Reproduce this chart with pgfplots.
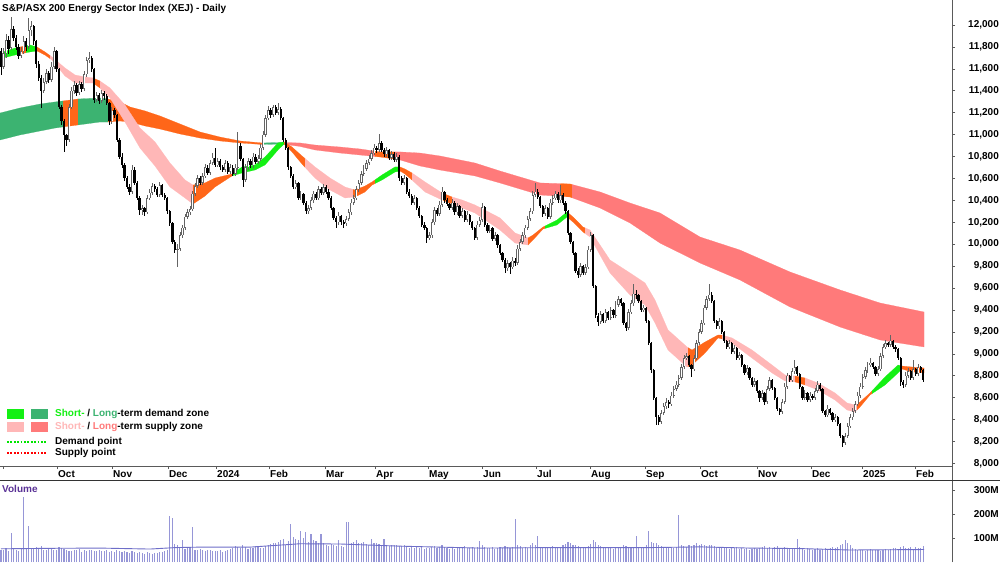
\documentclass[border=0pt]{standalone}
\usepackage{fontspec}
\setmainfont{Liberation Sans}
\usepackage{pgfplots}
\pgfplotsset{compat=1.18}
\usepackage{pgfplotstable}
\definecolor{sgreen}{RGB}{20,240,20}
\definecolor{lgreen}{RGB}{60,179,113}
\definecolor{spink}{RGB}{255,183,183}
\definecolor{lred}{RGB}{255,122,122}
\definecolor{orng}{RGB}{255,102,25}
\definecolor{volc}{RGB}{150,150,215}
\definecolor{volline}{RGB}{110,110,200}
\definecolor{upc}{RGB}{100,100,100}
\definecolor{vollbl}{RGB}{90,50,150}
\definecolor{axc}{RGB}{90,90,90}
\pgfplotsset{zone/.style={fill=#1, draw=#1, line width=0.2pt, forget plot, mark=none}}

\pgfplotstableread{
i o h l c v
0 11760 11790 11540 11620 52
1 11620 11790 11600 11740 48
2 11740 11920 11700 11860 60
3 11860 11900 11740 11780 45
4 11790 12070 11770 11960 120
5 11960 11990 11850 11880 55
6 11880 11910 11770 11800 50
7 11800 11830 11690 11720 47
8 11720 11800 11700 11760 53
9 11760 11900 11740 11850 270
10 11850 11880 11760 11800 58
11 11800 12060 11780 11950 150
12 11950 12040 11900 11990 60
13 11990 12000 11820 11850 55
14 11850 11860 11610 11640 62
15 11640 11670 11490 11520 58
16 11520 11540 11240 11400 65
17 11400 11520 11380 11480 50
18 11480 11600 11460 11560 48
19 11560 11580 11470 11500 55
20 11500 11660 11480 11620 60
21 11620 11800 11600 11760 52
22 11760 11770 11570 11600 48
23 11600 11610 11230 11250 62
24 11250 11270 11090 11120 58
25 11120 11140 10840 11000 55
26 11000 11010 10900 10950 50
27 10950 11280 10930 11250 47
28 11250 11430 11230 11400 45
29 11400 11490 11370 11450 52
30 11450 11470 11350 11380 48
31 11380 11490 11360 11460 55
32 11460 11480 11390 11420 42
33 11420 11580 11400 11550 50
34 11550 11710 11530 11680 45
35 11680 11750 11650 11700 48
36 11700 11720 11570 11600 52
37 11600 11610 11290 11320 46
38 11320 11390 11300 11360 44
39 11360 11380 11280 11310 50
40 11310 11410 11290 11380 47
41 11380 11400 11320 11350 45
42 11350 11370 11270 11290 50
43 11290 11300 11090 11120 43
44 11120 11250 11100 11220 46
45 11220 11240 11150 11180 42
46 11180 11190 10930 10950 48
47 10950 10970 10780 10800 45
48 10800 10830 10700 10720 40
49 10720 10740 10580 10600 44
50 10600 10620 10500 10520 42
51 10520 10550 10450 10480 38
52 10480 10720 10460 10680 45
53 10680 10700 10540 10560 40
54 10560 10580 10400 10420 36
55 10420 10440 10270 10310 42
56 10310 10360 10270 10330 38
57 10330 10340 10260 10290 35
58 10290 10450 10280 10420 40
59 10420 10500 10400 10470 37
60 10470 10560 10450 10530 34
61 10530 10550 10480 10500 38
62 10500 10520 10430 10450 36
63 10450 10570 10430 10540 40
64 10540 10550 10430 10450 42
65 10450 10470 10400 10420 44
66 10420 10430 10280 10300 50
67 10300 10310 10170 10190 190
68 10190 10200 10000 10020 185
69 10020 10040 9920 9950 75
70 9950 10000 9790 9960 70
71 9960 10110 9940 10080 60
72 10080 10180 10060 10150 90
73 10150 10280 10130 10250 55
74 10250 10320 10230 10290 62
75 10290 10350 10270 10320 58
76 10320 10490 10300 10460 146
77 10460 10560 10440 10530 52
78 10530 10630 10510 10600 48
79 10600 10620 10540 10560 55
80 10560 10650 10540 10620 50
81 10620 10730 10600 10700 45
82 10700 10720 10630 10650 48
83 10650 10770 10630 10740 52
84 10740 10830 10720 10790 47
85 10790 10880 10700 10720 44
86 10720 10790 10700 10760 46
87 10760 10780 10680 10700 50
88 10700 10720 10660 10680 42
89 10680 10770 10660 10740 45
90 10740 10760 10640 10660 48
91 10660 10730 10640 10700 55
92 10700 10720 10620 10640 60
93 10640 10730 10620 10700 65
94 10700 11020 10680 10900 62
95 10900 10920 10760 10780 58
96 10780 10790 10520 10590 70
97 10590 10730 10570 10700 62
98 10700 10790 10680 10760 55
99 10760 10780 10700 10720 60
100 10720 10830 10700 10800 58
101 10800 10820 10730 10750 65
102 10750 10810 10730 10780 62
103 10780 10910 10760 10880 57
104 10880 11030 10860 11000 60
105 11000 11180 10980 11150 68
106 11150 11260 11130 11220 72
107 11220 11240 11150 11180 75
108 11180 11270 11160 11250 80
109 11250 11270 11180 11200 78
110 11200 11290 11180 11230 85
111 11230 11250 11130 11150 90
112 11150 11160 10930 10950 95
113 10950 10970 10860 10880 70
114 10880 10890 10680 10700 88
115 10700 10710 10600 10620 158
116 10620 10640 10500 10520 105
117 10520 10590 10500 10560 95
118 10560 10570 10400 10420 90
119 10420 10490 10400 10460 130
120 10460 10470 10360 10380 100
121 10380 10390 10280 10300 125
122 10300 10360 10280 10330 85
123 10330 10430 10310 10400 115
124 10400 10490 10380 10460 92
125 10460 10480 10400 10420 88
126 10420 10530 10400 10500 80
127 10500 10520 10450 10470 117
128 10470 10550 10450 10520 78
129 10520 10540 10460 10480 72
130 10480 10500 10400 10420 68
131 10420 10440 10310 10330 75
132 10330 10340 10220 10240 70
133 10240 10260 10150 10200 65
134 10200 10290 10180 10260 92
135 10260 10270 10180 10200 68
136 10200 10220 10150 10190 62
137 10190 10260 10170 10230 166
138 10230 10320 10210 10290 166
139 10290 10410 10270 10380 80
140 10380 10450 10360 10420 85
141 10420 10530 10400 10500 90
142 10500 10590 10480 10560 78
143 10560 10670 10540 10640 80
144 10640 10720 10620 10690 82
145 10690 10770 10670 10740 75
146 10740 10810 10720 10780 70
147 10780 10860 10760 10830 96
148 10830 10910 10810 10880 80
149 10880 10900 10830 10860 80
150 10860 11010 10840 10920 75
151 10920 10940 10840 10860 70
152 10860 10880 10800 10820 96
153 10820 10890 10800 10860 68
154 10860 10870 10770 10790 65
155 10790 10850 10770 10820 70
156 10820 10840 10750 10770 70
157 10770 10830 10750 10800 72
158 10800 10810 10580 10600 68
159 10600 10620 10540 10560 65
160 10560 10630 10540 10600 70
161 10600 10610 10460 10480 62
162 10480 10500 10420 10440 58
163 10440 10460 10360 10380 66
164 10380 10450 10360 10420 60
165 10420 10430 10310 10330 64
166 10330 10350 10240 10260 58
167 10260 10270 10160 10180 62
168 10180 10200 10130 10150 55
169 10150 10160 10010 10060 60
170 10060 10110 10040 10080 58
171 10080 10230 10060 10200 62
172 10200 10340 10180 10310 66
173 10310 10330 10260 10280 60
174 10280 10390 10260 10360 64
175 10360 10520 10340 10480 70
176 10480 10490 10380 10400 62
177 10400 10420 10350 10370 58
178 10370 10380 10310 10330 55
179 10330 10410 10310 10380 60
180 10380 10390 10270 10290 56
181 10290 10380 10270 10350 60
182 10350 10360 10240 10260 58
183 10260 10330 10240 10300 62
184 10300 10310 10200 10220 65
185 10220 10300 10200 10270 60
186 10270 10280 10180 10200 60
187 10200 10210 10130 10150 62
188 10150 10160 10040 10060 58
189 10060 10210 10040 10180 64
190 10180 10250 10160 10220 88
191 10220 10380 10200 10340 70
192 10340 10350 10160 10180 62
193 10180 10190 10100 10120 58
194 10120 10180 10100 10150 60
195 10150 10160 10030 10050 64
196 10050 10110 10030 10080 56
197 10080 10090 9970 9990 60
198 9990 10000 9900 9920 62
199 9920 9930 9840 9860 58
200 9860 9870 9740 9780 66
201 9780 9860 9760 9830 62
202 9830 9840 9730 9790 58
203 9790 9880 9770 9850 64
204 9850 9870 9800 9830 181
205 9830 9990 9810 9960 70
206 9960 10050 9940 10020 68
207 10020 10110 10000 10080 60
208 10080 10180 10060 10150 62
209 10150 10260 10130 10230 58
210 10230 10330 10210 10300 72
211 10300 10490 10280 10450 78
212 10450 10560 10430 10480 70
213 10480 10500 10410 10430 107
214 10430 10440 10330 10350 62
215 10350 10360 10250 10280 60
216 10280 10360 10260 10330 64
217 10330 10340 10230 10250 58
218 10250 10410 10230 10380 62
219 10380 10450 10360 10420 66
220 10420 10490 10400 10460 60
221 10460 10480 10380 10400 58
222 10400 10540 10380 10450 64
223 10450 10470 10360 10380 70
224 10380 10390 10280 10300 75
225 10300 10310 10080 10100 85
226 10100 10110 10000 10020 80
227 10020 10030 9900 9920 72
228 9920 9930 9740 9760 70
229 9760 9780 9690 9720 66
230 9720 9830 9700 9800 62
231 9800 9810 9720 9740 60
232 9740 9820 9720 9790 58
233 9790 9980 9770 9950 68
234 9950 10110 9930 10080 75
235 10080 10090 9600 9620 90
236 9620 9630 9330 9350 85
237 9350 9370 9250 9290 70
238 9290 9390 9270 9360 65
239 9360 9370 9280 9300 62
240 9300 9410 9280 9380 60
241 9380 9390 9310 9330 58
242 9330 9430 9310 9400 62
243 9400 9410 9330 9350 56
244 9350 9480 9330 9450 60
245 9450 9530 9430 9500 58
246 9500 9510 9440 9460 64
247 9460 9470 9260 9280 70
248 9280 9290 9210 9240 66
249 9240 9410 9220 9380 62
250 9380 9490 9360 9460 58
251 9460 9640 9440 9550 60
252 9550 9580 9500 9540 107
253 9540 9550 9460 9480 62
254 9480 9490 9380 9400 58
255 9400 9450 9380 9420 60
256 9420 9430 9280 9300 70
257 9300 9310 9080 9100 129
258 9100 9110 8830 8850 85
259 8850 8860 8580 8600 80
260 8600 8610 8350 8420 78
261 8420 8440 8350 8380 70
262 8380 8490 8360 8460 65
263 8460 8550 8440 8520 62
264 8520 8600 8500 8560 60
265 8560 8580 8510 8540 58
266 8540 8650 8520 8620 62
267 8620 8710 8600 8680 60
268 8680 8750 8660 8720 64
269 8720 8810 8700 8780 196
270 8780 8910 8760 8880 72
271 8880 8990 8860 8960 68
272 8960 9010 8940 8980 64
273 8980 8990 8880 8900 70
274 8900 8910 8790 8860 66
275 8860 8990 8840 8960 72
276 8960 9130 8940 9100 80
277 9100 9230 9080 9200 70
278 9200 9310 9180 9280 75
279 9280 9450 9260 9420 70
280 9420 9530 9400 9500 68
281 9500 9640 9480 9540 72
282 9540 9560 9460 9480 70
283 9480 9490 9280 9300 65
284 9300 9310 9230 9250 62
285 9250 9330 9230 9300 60
286 9300 9310 9180 9200 64
287 9200 9210 9100 9120 58
288 9120 9130 9040 9060 62
289 9060 9130 9040 9100 56
290 9100 9110 9000 9020 60
291 9020 9080 9000 9050 58
292 9050 9060 8940 8960 62
293 8960 9020 8940 8990 56
294 8990 9000 8880 8900 60
295 8900 8910 8810 8830 54
296 8830 8900 8810 8870 58
297 8870 8880 8760 8780 52
298 8780 8790 8700 8720 56
299 8720 8780 8700 8750 60
300 8750 8760 8640 8660 55
301 8660 8670 8560 8600 58
302 8600 8670 8580 8640 62
303 8640 8650 8530 8560 66
304 8560 8710 8540 8680 60
305 8680 8790 8660 8760 64
306 8760 8770 8670 8690 58
307 8690 8700 8580 8600 62
308 8600 8610 8480 8500 66
309 8500 8510 8440 8470 60
310 8470 8590 8450 8560 58
311 8560 8730 8540 8700 62
312 8700 8830 8680 8800 56
313 8800 8810 8740 8760 60
314 8760 8870 8740 8840 54
315 8840 8940 8820 8880 58
316 8880 8890 8800 8820 96
317 8820 8830 8680 8700 62
318 8700 8710 8580 8600 56
319 8600 8670 8580 8640 52
320 8640 8650 8560 8580 58
321 8580 8650 8560 8620 55
322 8620 8630 8580 8600 50
323 8600 8690 8580 8660 54
324 8660 8750 8640 8720 58
325 8720 8730 8660 8680 52
326 8680 8690 8460 8480 56
327 8480 8490 8420 8440 60
328 8440 8530 8420 8500 54
329 8500 8510 8440 8460 58
330 8460 8470 8380 8400 62
331 8400 8450 8380 8420 58
332 8420 8430 8340 8360 64
333 8360 8370 8230 8250 70
334 8250 8260 8150 8190 75
335 8190 8280 8170 8250 92
336 8250 8370 8230 8340 80
337 8340 8450 8320 8420 72
338 8420 8510 8400 8480 60
339 8480 8570 8460 8540 55
340 8540 8650 8520 8620 52
341 8620 8730 8600 8700 48
342 8700 8820 8680 8790 50
343 8790 8880 8770 8850 46
344 8850 8930 8830 8900 50
345 8900 8960 8880 8920 54
346 8920 8930 8860 8880 48
347 8880 8890 8800 8820 52
348 8820 8890 8800 8860 50
349 8860 9010 8840 8980 46
350 8980 9090 8960 9060 52
351 9060 9130 9040 9100 55
352 9100 9110 9060 9080 50
353 9080 9170 9060 9120 56
354 9120 9130 9040 9060 60
355 9060 9080 9020 9040 58
356 9040 9050 8940 8960 54
357 8960 8970 8710 8740 62
358 8740 8760 8690 8720 66
359 8720 8830 8700 8800 58
360 8800 8870 8780 8840 60
361 8840 8850 8760 8780 64
362 8780 8940 8760 8860 56
363 8860 8870 8800 8820 62
364 8820 8910 8800 8880 58
365 8880 8890 8830 8850 60
366 8850 8860 8740 8760 66
}\candles

\begin{document}
\begin{tikzpicture}
\fill[white] (0pt,0pt) rectangle (1000pt,562pt);
\useasboundingbox (0pt,0pt) rectangle (1000pt,562pt);

% ---------------- price panel ----------------
\begin{axis}[
  at={(0pt,96pt)}, anchor=south west, scale only axis,
  width=952pt, height=466pt,
  xmin=0, xmax=952, ymin=7977, ymax=12228,
  axis x line*=bottom, axis y line*=right,
  axis line style={draw=axc, line width=0.7pt},
  tick align=outside, major tick length=3pt,
  tick style={draw=axc, line width=0.6pt},
  xtick={3,57,112,168,216,269,325,375,428,482,536,590,645,700,757,811,862,915},
  xticklabels={,Oct,Nov,Dec,2024,Feb,Mar,Apr,May,Jun,Jul,Aug,Sep,Oct,Nov,Dec,2025,Feb},
  xticklabel style={anchor=north west, inner sep=0pt, xshift=1pt, yshift=-1pt, font=\bfseries\fontsize{10}{11}\selectfont},
  ytick={8000,8200,...,12000},
  scaled y ticks=false,
  yticklabel style={anchor=east, inner sep=0pt, xshift=44pt, font=\bfseries\fontsize{10}{11}\selectfont,
    /pgf/number format/.cd, fixed, precision=0, 1000 sep={,}, assume math mode=true},
  clip=true,
]
% long-term zone
\addplot[zone=lgreen] coordinates {(0,11197)(20,11243)(40,11279)(55,11298)(63,11307)(63,11070)(55,11060)(40,11033)(20,10997)(0,10951)};
\addplot[zone=orng] coordinates {(63,11307)(78,11325)(78,11088)(63,11070)};
\addplot[zone=lgreen] coordinates {(78,11325)(100,11334)(108,11325)(108,11115)(100,11115)(78,11088)};
\addplot[zone=orng] coordinates {(108,11325)(120,11298)(130,11252)(145,11216)(160,11170)(180,11097)(200,11024)(220,10978)(240,10942)(262,10924)(262,10910)(240,10924)(220,10942)(200,10969)(180,11006)(160,11051)(145,11079)(130,11115)(120,11124)(108,11115)};
\addplot[zone=lgreen] coordinates {(262,10924)(282,10928)(282,10914)(262,10910)};
\addplot[zone=lred] coordinates {(282,10928)(300,10924)(315,10905)(340,10887)(360,10869)(375,10849)(375,10800)(360,10814)(340,10832)(315,10860)(300,10892)(282,10914)};
\addplot[zone=orng] coordinates {(375,10849)(380,10842)(395,10842)(395,10776)(380,10796)(375,10800)};
\addplot[zone=lred] coordinates {(395,10842)(400,10842)(420,10832)(440,10805)(475,10741)(500,10668)(540,10559)(560,10553)(560,10437)(540,10449)(500,10559)(475,10623)(440,10677)(420,10714)(400,10769)(395,10776)};
\addplot[zone=orng] coordinates {(560,10553)(570,10550)(572,10545)(572,10424)(570,10431)(560,10437)};
\addplot[zone=lred] coordinates {(572,10545)(600,10477)(630,10376)(660,10285)(700,10066)(740,9947)(790,9747)(840,9583)(880,9464)(924,9382)(924,9063)(880,9127)(840,9245)(790,9428)(740,9674)(700,9829)(660,10011)(630,10194)(600,10331)(572,10424)};
% short-term zone
\addplot[zone=sgreen] coordinates {(3,11754)(15,11790)(19,11797)(19,11733)(15,11726)(3,11699)};
\addplot[zone=orng] coordinates {(19,11797)(26,11811)(26,11747)(19,11733)};
\addplot[zone=sgreen] coordinates {(26,11811)(30,11818)(35,11804)(35,11760)(30,11754)(26,11747)};
\addplot[zone=orng] coordinates {(35,11804)(37,11799)(45,11754)(50,11721)(50,11694)(45,11726)(37,11763)(35,11760)};
\addplot[zone=spink] coordinates {(50,11721)(52,11708)(65,11608)(75,11544)(85,11526)(93,11517)(93,11471)(85,11471)(75,11471)(65,11535)(52,11681)(50,11694)};
\addplot[zone=orng] coordinates {(93,11517)(100,11489)(100,11425)(93,11471)};
\addplot[zone=spink] coordinates {(100,11489)(110,11425)(125,11270)(140,11060)(155,10933)(170,10741)(185,10586)(193,10540)(193,10367)(185,10422)(170,10522)(155,10714)(140,10878)(125,11115)(110,11334)(100,11425)};
\addplot[zone=orng] coordinates {(193,10540)(205,10559)(215,10604)(232,10641)(233,10647)(233,10626)(232,10623)(215,10522)(205,10440)(193,10367)};
\addplot[zone=sgreen] coordinates {(233,10647)(242,10705)(255,10723)(265,10796)(278,10924)(284,10933)(284,10914)(278,10860)(265,10723)(255,10677)(242,10650)(233,10626)};
\addplot[zone=orng] coordinates {(284,10933)(292,10887)(302,10805)(305,10782)(305,10702)(302,10732)(292,10842)(284,10914)};
\addplot[zone=spink] coordinates {(305,10782)(315,10705)(330,10604)(345,10522)(353,10500)(353,10429)(345,10422)(330,10495)(315,10604)(305,10702)};
\addplot[zone=orng] coordinates {(353,10500)(355,10495)(365,10531)(372,10568)(375,10587)(375,10554)(372,10540)(365,10477)(355,10431)(353,10429)};
\addplot[zone=sgreen] coordinates {(375,10587)(382,10632)(395,10705)(398,10705)(398,10664)(395,10659)(382,10586)(375,10554)};
\addplot[zone=orng] coordinates {(398,10705)(400,10705)(405,10686)(412,10650)(412,10586)(405,10641)(400,10668)(398,10664)};
\addplot[zone=spink] coordinates {(412,10650)(425,10568)(442,10468)(443,10464)(443,10400)(442,10404)(425,10477)(412,10586)};
\addplot[zone=orng] coordinates {(443,10464)(452,10431)(452,10367)(443,10400)};
\addplot[zone=spink] coordinates {(452,10431)(462,10404)(475,10358)(500,10240)(515,10103)(528,10057)(528,9993)(515,10011)(500,10130)(475,10285)(462,10331)(452,10367)};
\addplot[zone=orng] coordinates {(528,10057)(533,10084)(543,10157)(545,10166)(545,10144)(543,10139)(533,10039)(528,9993)};
\addplot[zone=sgreen] coordinates {(545,10166)(557,10221)(567,10294)(568,10287)(568,10241)(567,10249)(557,10176)(545,10144)};
\addplot[zone=orng] coordinates {(568,10287)(573,10249)(583,10157)(585,10149)(585,10099)(583,10112)(573,10203)(568,10241)};
\addplot[zone=spink] coordinates {(585,10149)(590,10130)(610,9856)(630,9738)(645,9647)(655,9491)(668,9218)(687,9063)(688,9057)(688,8884)(687,8880)(668,9035)(655,9282)(645,9446)(630,9537)(610,9738)(590,10066)(585,10099)};
\addplot[zone=orng] coordinates {(688,9057)(692,9035)(705,9108)(718,9172)(722,9172)(722,9136)(718,9145)(705,9008)(692,8898)(688,8884)};
\addplot[zone=spink] coordinates {(722,9172)(732,9145)(752,9035)(772,8898)(785,8807)(795,8798)(795,8744)(785,8753)(772,8826)(752,8962)(732,9099)(722,9136)};
\addplot[zone=orng] coordinates {(795,8798)(805,8780)(805,8716)(795,8744)};
\addplot[zone=spink] coordinates {(805,8780)(818,8734)(835,8643)(847,8552)(855,8534)(857,8545)(857,8488)(855,8470)(847,8488)(835,8579)(818,8670)(805,8716)};
\addplot[zone=orng] coordinates {(857,8545)(860,8561)(870,8643)(872,8662)(872,8637)(870,8625)(860,8515)(857,8488)};
\addplot[zone=sgreen] coordinates {(872,8662)(885,8789)(898,8898)(902,8889)(902,8862)(898,8826)(885,8716)(872,8637)};
\addplot[zone=orng] coordinates {(902,8889)(912,8880)(924,8871)(924,8826)(912,8835)(902,8862)};

% candles: wicks
\addplot[draw=none, mark=none, forget plot,
  error bars/.cd, y dir=both, y explicit, error mark=none,
  error bar style={draw=upc, line width=0.8pt}]
  table[x expr={1+2.52*\thisrow{i}},
        y expr={\thisrow{c}>\thisrow{o} ? (\thisrow{h}+\thisrow{l})/2 : nan},
        y error expr={(\thisrow{h}-\thisrow{l})/2}] {\candles};
\addplot[draw=none, mark=none, forget plot,
  error bars/.cd, y dir=both, y explicit, error mark=none,
  error bar style={draw=black, line width=0.8pt}]
  table[x expr={1+2.52*\thisrow{i}},
        y expr={\thisrow{c}<\thisrow{o} ? (\thisrow{h}+\thisrow{l})/2 : nan},
        y error expr={(\thisrow{h}-\thisrow{l})/2}] {\candles};
% up bodies: hollow
\addplot[draw=none, mark=none, forget plot,
  error bars/.cd, y dir=both, y explicit, error mark=none,
  error bar style={draw=upc, line width=2.3pt}]
  table[x expr={1+2.52*\thisrow{i}},
        y expr={\thisrow{c}>\thisrow{o} ? (\thisrow{o}+\thisrow{c})/2 : nan},
        y error expr={abs(\thisrow{c}-\thisrow{o})/2}] {\candles};
\addplot[draw=none, mark=none, forget plot,
  error bars/.cd, y dir=both, y explicit, error mark=none,
  error bar style={draw=white, line width=0.7pt}]
  table[x expr={1+2.52*\thisrow{i}},
        y expr={\thisrow{c}>\thisrow{o} ? (\thisrow{o}+\thisrow{c})/2 : nan},
        y error expr={max(abs(\thisrow{c}-\thisrow{o})/2-6,0)}] {\candles};
% down bodies: solid black
\addplot[draw=none, mark=none, forget plot,
  error bars/.cd, y dir=both, y explicit, error mark=none,
  error bar style={draw=black, line width=2.3pt}]
  table[x expr={1+2.52*\thisrow{i}},
        y expr={\thisrow{c}<\thisrow{o} ? (\thisrow{o}+\thisrow{c})/2 : nan},
        y error expr={abs(\thisrow{o}-\thisrow{c})/2}] {\candles};
\end{axis}

% ---------------- volume panel ----------------
\begin{axis}[
  at={(0pt,0pt)}, anchor=south west, scale only axis,
  width=952pt, height=82pt,
  xmin=0, xmax=952, ymin=0, ymax=341.7,
  axis x line=none, axis y line*=right,
  axis line style={draw=axc, line width=0.7pt},
  tick align=outside, major tick length=3pt,
  tick style={draw=axc, line width=0.6pt},
  ytick={100,200,300}, yticklabels={100M,200M,300M},
  yticklabel style={anchor=east, inner sep=0pt, xshift=44pt, font=\bfseries\fontsize{10}{11}\selectfont},
  clip=true,
]
\addplot[ycomb, no marks, draw=volc, line width=1.1pt] table[x expr={1+2.52*\thisrow{i}}, y=v] {\candles};
\addplot[no marks, draw=volline, line width=0.9pt] coordinates {(1,55) (50,57) (100,58) (150,54) (175,60) (200,62) (250,62) (300,76) (340,75) (400,66) (480,58) (550,60) (650,60) (700,63) (750,58) (800,56) (850,50) (924,52)};
\end{axis}

% frame lines
\draw[axc, line width=0.7pt] (952pt,0pt) -- (952pt,562pt);
\draw[black!80, line width=0.8pt] (0pt,82pt) -- (1000pt,82pt);

% title
\node[anchor=west, inner sep=0pt, font=\bfseries\fontsize{10}{12}\selectfont] at (2pt,553.5pt) {S\&P/ASX 200 Energy Sector Index (XEJ) - Daily};
% volume label
\node[anchor=west, inner sep=0pt, font=\bfseries\fontsize{10}{12}\selectfont, text=vollbl] at (2pt,73pt) {Volume};

% legend
\fill[sgreen] (7pt,143pt) rectangle (24pt,153pt);
\fill[lgreen] (31pt,143pt) rectangle (48pt,153pt);
\fill[spink] (7pt,130pt) rectangle (24pt,140pt);
\fill[lred] (31pt,130pt) rectangle (48pt,140pt);
\draw[green!90!black, line width=2pt, dash pattern=on 1.8pt off 1.6pt] (7pt,120pt) -- (46pt,120pt);
\draw[red, line width=2pt, dash pattern=on 1.8pt off 1.6pt] (7pt,109pt) -- (46pt,109pt);
\node[anchor=west, inner sep=0pt, font=\bfseries\fontsize{10}{12}\selectfont] at (55pt,148pt) {\textcolor{sgreen}{Short-} / \textcolor{lgreen}{Long}-term demand zone};
\node[anchor=west, inner sep=0pt, font=\bfseries\fontsize{10}{12}\selectfont] at (55pt,135pt) {\textcolor{spink}{Short-} / \textcolor{lred}{Long}-term supply zone};
\node[anchor=west, inner sep=0pt, font=\bfseries\fontsize{10}{12}\selectfont] at (55pt,120pt) {Demand point};
\node[anchor=west, inner sep=0pt, font=\bfseries\fontsize{10}{12}\selectfont] at (55pt,109pt) {Supply point};
\end{tikzpicture}
\end{document}
